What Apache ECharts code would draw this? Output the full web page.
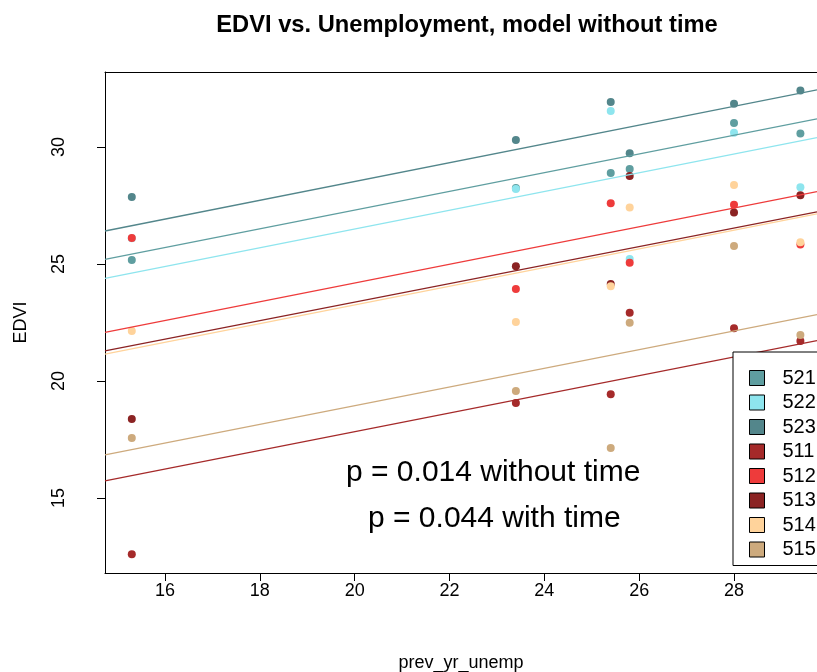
<!DOCTYPE html>
<html><head><meta charset="utf-8">
<script src="https://cdn.jsdelivr.net/npm/echarts@6/dist/echarts.min.js"></script>
<style>html,body{margin:0;padding:0;background:#fff}#c{width:817px;height:672px}</style>
</head><body><div id="c"></div>
<script>
// ---- data ----
const xValues = [15.3, 23.4, 25.4, 25.8, 28.0, 29.4];
const groupNames = ['521', '522', '523', '511', '512', '513', '514', '515'];
const groupColors = ['#5F9EA0', '#8EE5EE', '#53868B', '#A52A2A', '#EE3B3B', '#8B2323', '#FFD39B', '#CDAA7D'];
const edvi521 = [25.17, 28.25, 28.89, 29.06, 31.03, 30.58];
const edvi522 = [26.10, 28.20, 31.54, 25.21, 30.61, 28.28];
const edvi523 = [27.86, 30.30, 31.92, 29.73, 31.85, 32.41];
const edvi511 = [12.60, 19.06, 19.43, 22.92, 22.25, 21.71];
const edvi512 = [26.11, 23.93, 27.60, 25.05, 27.53, 25.83];
const edvi513 = [18.38, 24.90, 24.15, 28.76, 27.20, 27.94];
const edvi514 = [22.14, 22.52, 24.05, 27.41, 28.38, 25.93];
const edvi515 = [17.56, 19.57, 17.14, 22.49, 25.77, 21.97];
// fitted line end points (x range of the plot)
const fitX = [14.735, 29.75];
const fit521 = [25.20, 31.20];
const fit522 = [24.39, 30.40];
const fit523 = [26.41, 32.44];
const fit511 = [15.73, 21.73];
const fit512 = [22.08, 28.09];
const fit513 = [21.29, 27.23];
const fit514 = [21.15, 27.14];
const fit515 = [16.84, 22.84];
const xTicks = [16, 18, 20, 22, 24, 26, 28];
const yTicks = [15, 20, 25, 30];
const pTexts = ['p = 0.014 without time', 'p = 0.044 with time'];

const pointsByGroup = [edvi521, edvi522, edvi523, edvi511, edvi512, edvi513, edvi514, edvi515];
const fitsByGroup = [fit521, fit522, fit523, fit511, fit512, fit513, fit514, fit515];

const FONT = 'Liberation Sans, Arial, sans-serif';
const chart = echarts.init(document.getElementById('c'));
const series = [];
groupNames.forEach((g, i) => {
  series.push({
    name: g, type: 'scatter', symbol: 'circle', symbolSize: 8,
    itemStyle: { color: groupColors[i], opacity: 1 },
    data: xValues.map((x, k) => [x, pointsByGroup[i][k]]),
    z: 2, silent: true
  });
});
groupNames.forEach((g, i) => {
  series.push({
    name: g + ' fit', type: 'line', showSymbol: false, symbol: 'none',
    lineStyle: { color: groupColors[i], width: 1.3 },
    data: fitX.map((x, k) => [x, fitsByGroup[i][k]]),
    z: 3, silent: true
  });
});

chart.setOption({
  animation: false,
  backgroundColor: '#fff',
  title: {
    text: 'EDVI vs. Unemployment, model without time',
    left: 462, top: 8, textAlign: 'center',
    textStyle: { fontFamily: FONT, fontSize: 23.7, fontWeight: 'bold', color: '#000' }
  },
  grid: { left: 105, top: 72, right: 0, bottom: 99, containLabel: false, outerBoundsMode: 'none' },
  legend: {
    data: groupNames,
    orient: 'vertical', left: 733, top: 352,
    itemWidth: 15, itemHeight: 15, itemGap: 4.5,
    padding: [16, 40, 6, 16],
    borderColor: '#000', borderWidth: 1, backgroundColor: '#fff',
    icon: 'rect',
    itemStyle: { borderColor: '#000', borderWidth: 1 },
    textStyle: { fontFamily: FONT, fontSize: 20, color: '#000', padding: [0, 0, 0, 13] },
    selectedMode: false, z: 10
  },
  xAxis: [{
    type: 'value', min: fitX[0], max: fitX[1],
    name: 'prev_yr_unemp', nameLocation: 'middle', nameGap: 81,
    nameTextStyle: { fontFamily: FONT, fontSize: 18, color: '#000' },
    axisLine: { show: true, onZero: false, lineStyle: { color: '#000', width: 1 } },
    axisTick: { show: true, length: 8, customValues: xTicks, lineStyle: { color: '#000' } },
    axisLabel: { customValues: xTicks, fontFamily: FONT, fontSize: 18, color: '#000', margin: 9 },
    splitLine: { show: false }
  }, {
    type: 'value', position: 'top', min: fitX[0], max: fitX[1],
    axisLine: { show: true, onZero: false, lineStyle: { color: '#000', width: 1 } },
    axisTick: { show: false }, axisLabel: { show: false }, splitLine: { show: false }
  }],
  yAxis: [{
    type: 'value', min: 11.795, max: 33.205,
    name: 'EDVI', nameLocation: 'middle', nameGap: 75, nameRotate: 90,
    nameTextStyle: { fontFamily: FONT, fontSize: 18, color: '#000' },
    axisLine: { show: true, onZero: false, lineStyle: { color: '#000', width: 1 } },
    axisTick: { show: true, length: 8, customValues: yTicks, lineStyle: { color: '#000' } },
    axisLabel: { customValues: yTicks, rotate: 90, fontFamily: FONT, fontSize: 18, color: '#000', margin: 37 },
    splitLine: { show: false }
  }],
  graphic: [
    { type: 'text', left: 346, top: 458, style: { text: pTexts[0], font: '30px ' + FONT, fill: '#000' }, z: 20 },
    { type: 'text', left: 368, top: 504, style: { text: pTexts[1], font: '30px ' + FONT, fill: '#000' }, z: 20 }
  ],
  series: series
});
</script></body></html>
